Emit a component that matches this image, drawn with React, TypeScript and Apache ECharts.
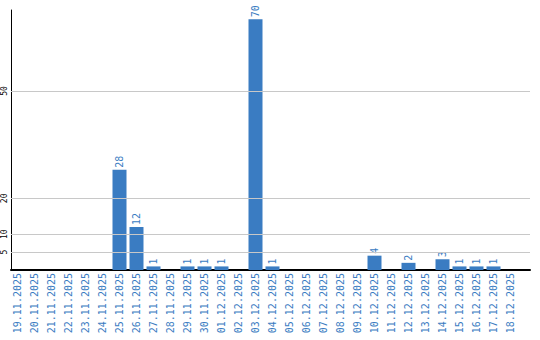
import React, { useEffect, useRef } from "react";
import * as echarts from "echarts";

const categories = [
  "19.11.2025", "20.11.2025", "21.11.2025", "22.11.2025", "23.11.2025", "24.11.2025",
  "25.11.2025", "26.11.2025", "27.11.2025", "28.11.2025", "29.11.2025", "30.11.2025",
  "01.12.2025", "02.12.2025", "03.12.2025", "04.12.2025", "05.12.2025", "06.12.2025",
  "07.12.2025", "08.12.2025", "09.12.2025", "10.12.2025", "11.12.2025", "12.12.2025",
  "13.12.2025", "14.12.2025", "15.12.2025", "16.12.2025", "17.12.2025", "18.12.2025",
];
const values = [0, 0, 0, 0, 0, 0, 28, 12, 1, 0, 1, 1, 1, 0, 70, 1, 0, 0, 0, 0, 0, 4, 0, 2, 0, 3, 1, 1, 1, 0];
const yTicks = [5, 10, 20, 50];
const yMax = 72.6;

const BLUE = "#3a7cc2";
const FONT = "DejaVu Sans Mono";

export default function App() {
  const ref = useRef<HTMLDivElement>(null);
  useEffect(() => {
    if (!ref.current) return;
    const chart = echarts.init(ref.current, null, { renderer: "svg" });
    chart.setOption({
      animation: false,
      backgroundColor: "#ffffff",
      grid: [
        { left: 11, right: 10, top: 10, bottom: 70 },
        { left: 9, width: 510, top: 10, bottom: 70 },
      ],
      xAxis: [
        {
          gridIndex: 0,
          type: "value",
          min: 0,
          max: 1,
          axisLine: { show: true, onZero: false, lineStyle: { color: "#000", width: 2 } },
          axisTick: { show: false },
          axisLabel: { show: false },
          splitLine: { show: false },
        },
        {
          gridIndex: 1,
          type: "category",
          data: categories,
          axisLine: { show: false },
          axisTick: { show: false },
          axisLabel: {
            rotate: 90,
            interval: 0,
            margin: 3,
            color: BLUE,
            fontFamily: FONT,
            fontSize: 10,
          },
        },
      ],
      yAxis: [
        {
          gridIndex: 0,
          type: "value",
          min: 0,
          max: yMax,
          interval: 5,
          axisLine: { show: true, lineStyle: { color: "#000", width: 1 } },
          axisTick: { show: false },
          splitLine: { show: false },
          axisLabel: {
            rotate: 90,
            margin: 3,
            color: "#000",
            fontFamily: FONT,
            fontSize: 8,
            showMaxLabel: false,
            formatter: (v: number) => (yTicks.includes(v) ? String(v) : ""),
          },
        },
        {
          gridIndex: 1,
          type: "value",
          min: 0,
          max: yMax,
          show: false,
        },
      ],
      series: [
        {
          type: "line",
          xAxisIndex: 0,
          yAxisIndex: 0,
          data: [],
          z: 1,
          silent: true,
          markLine: {
            silent: true,
            symbol: "none",
            label: { show: false },
            lineStyle: { color: "#c8c8c8", width: 1, type: "solid" },
            data: yTicks.map((t) => ({ yAxis: t })),
          },
        },
        {
          type: "bar",
          xAxisIndex: 1,
          yAxisIndex: 1,
          data: values,
          barWidth: 14,
          z: 3,
          itemStyle: { color: BLUE },
          label: {
            show: true,
            position: "top",
            rotate: 90,
            align: "left",
            verticalAlign: "middle",
            distance: 2,
            color: BLUE,
            fontFamily: FONT,
            fontSize: 10,
            formatter: (p: any) => (p.value ? String(p.value) : ""),
          },
        },
      ],
    });
    return () => chart.dispose();
  }, []);
  return (
    <div
      ref={ref}
      style={{ position: "fixed", left: 0, top: 0, width: 540, height: 340 }}
    />
  );
}
